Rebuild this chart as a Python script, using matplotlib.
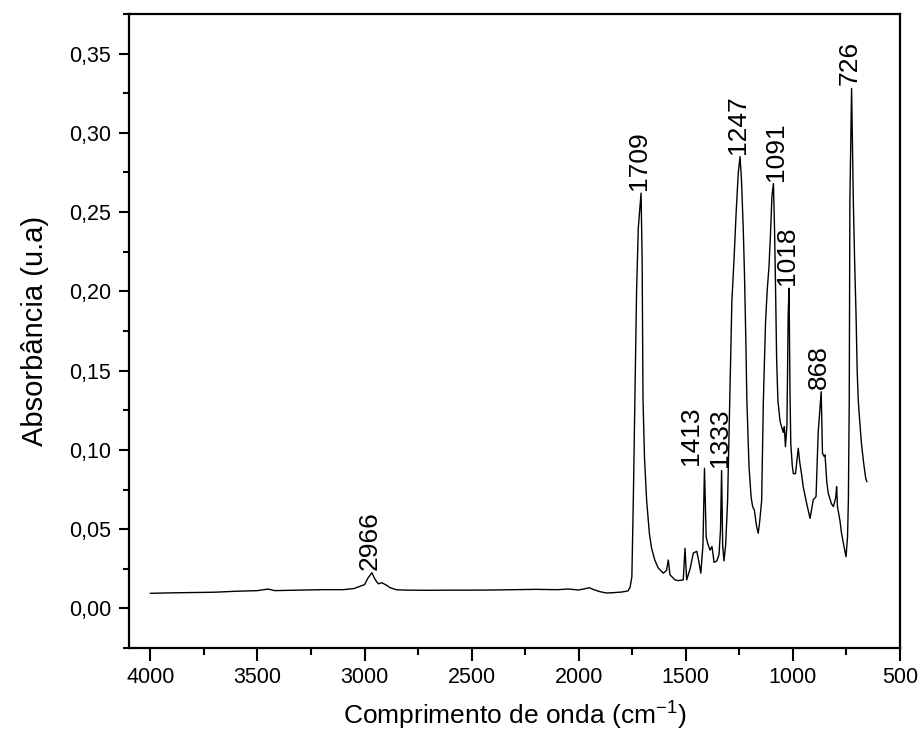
import matplotlib
matplotlib.use("Agg")
import matplotlib.pyplot as plt
from matplotlib.ticker import MultipleLocator, FuncFormatter

# ---- data ----
wavenumber = [4000, 3900, 3800, 3700, 3600, 3500, 3450, 3420, 3300, 3200, 3100, 3050,
              3020, 3000, 2985, 2966, 2950, 2935, 2920, 2900, 2880, 2850, 2800, 2700,
              2600, 2500, 2400, 2300, 2200, 2100, 2050, 2000, 1950, 1930, 1900, 1870,
              1840, 1800, 1770, 1760, 1752, 1745, 1738, 1730, 1722, 1709, 1704, 1700,
              1693, 1683, 1670, 1660, 1645, 1629, 1605, 1590, 1582, 1574, 1551, 1535,
              1512, 1504, 1496, 1480, 1465, 1449, 1440, 1430, 1420, 1413, 1405, 1398,
              1387, 1378, 1368, 1355, 1345, 1338, 1333, 1328, 1322, 1314, 1305, 1295,
              1285, 1275, 1265, 1255, 1247, 1240, 1232, 1226, 1220, 1215, 1205, 1195,
              1188, 1180, 1170, 1162, 1155, 1146, 1138, 1128, 1120, 1112, 1105, 1098,
              1091, 1086, 1082, 1076, 1070, 1060, 1053, 1045, 1040, 1035, 1028, 1022,
              1018, 1014, 1010, 1003, 998, 988, 980, 975, 968, 960, 952, 936, 920, 905,
              892, 882, 868, 862, 855, 850, 842, 835, 820, 811, 800, 796, 792, 780, 773,
              760, 752, 745, 741, 737, 734, 726, 718, 712, 705, 700, 695, 688, 680, 670,
              660, 655]
absorbance = [0.0095, 0.0098, 0.0100, 0.0102, 0.0108, 0.0112, 0.0122, 0.0112, 0.0115,
              0.0118, 0.0118, 0.0125, 0.0140, 0.0150, 0.0190, 0.0225, 0.0180, 0.0155,
              0.0162, 0.0148, 0.0130, 0.0117, 0.0115, 0.0114, 0.0115, 0.0115, 0.0116,
              0.0118, 0.0120, 0.0118, 0.0122, 0.0116, 0.0130, 0.0118, 0.0105, 0.0097,
              0.0099, 0.0103, 0.0110, 0.0135, 0.0200, 0.0700, 0.1300, 0.2000, 0.2400,
              0.2620, 0.2200, 0.1320, 0.0950, 0.0680, 0.0470, 0.0380, 0.0305, 0.0255,
              0.0222, 0.0240, 0.0305, 0.0212, 0.0180, 0.0175, 0.0180, 0.0379, 0.0180,
              0.0250, 0.0349, 0.0360, 0.0300, 0.0222, 0.0400, 0.0884, 0.0450, 0.0410,
              0.0368, 0.0390, 0.0290, 0.0300, 0.0340, 0.0500, 0.0870, 0.0400, 0.0300,
              0.0400, 0.0680, 0.1310, 0.1940, 0.2200, 0.2500, 0.2750, 0.2850, 0.2700,
              0.2400, 0.2100, 0.1700, 0.1310, 0.0894, 0.0700, 0.0642, 0.0620, 0.0520,
              0.0474, 0.0550, 0.0680, 0.1310, 0.1800, 0.2010, 0.2150, 0.2350, 0.2600,
              0.2680, 0.2400, 0.2100, 0.1570, 0.1310, 0.1180, 0.1146, 0.1110, 0.1146,
              0.1020, 0.1150, 0.1860, 0.2020, 0.1400, 0.1040, 0.0900, 0.0850, 0.0850,
              0.0950, 0.1010, 0.0920, 0.0850, 0.0768, 0.0663, 0.0568, 0.0685, 0.0705,
              0.1110, 0.1367, 0.0979, 0.0960, 0.0968, 0.0800, 0.0726, 0.0660, 0.0642,
              0.0700, 0.0768, 0.0642, 0.0550, 0.0474, 0.0380, 0.0326, 0.0450, 0.0684,
              0.1310, 0.2577, 0.3280, 0.2577, 0.2200, 0.1840, 0.1500, 0.1315, 0.1180,
              0.1040, 0.0920, 0.0820, 0.0800]

peak_labels = ["2966", "1709", "1413", "1333", "1247", "1091", "1018", "868", "726"]
peak_wn = [2966, 1709, 1413, 1333, 1247, 1091, 1018, 868, 726]
peak_abs = [0.0225, 0.2620, 0.0884, 0.0870, 0.2850, 0.2680, 0.2020, 0.1367, 0.3280]

x_ticks = [4000, 3500, 3000, 2500, 2000, 1500, 1000, 500]
y_ticks = [0.00, 0.05, 0.10, 0.15, 0.20, 0.25, 0.30, 0.35]

# ---- style ----
family = ["Liberation Sans", "DejaVu Sans"]
plt.rcParams["font.family"] = family
plt.rcParams["mathtext.fontset"] = "custom"
plt.rcParams["mathtext.rm"] = "Liberation Sans"
plt.rcParams["mathtext.it"] = "Liberation Sans"

fig = plt.figure(figsize=(9.19, 7.45), dpi=100)
ax = fig.add_axes([129 / 919, 1 - 648 / 745, 771 / 919, 634 / 745])

ax.plot(wavenumber, absorbance, color="black", lw=1.0)

ax.set_xlim(4100, 500)
ax.set_ylim(-0.025, 0.375)
ax.set_xticks(x_ticks)
ax.set_yticks(y_ticks)
ax.xaxis.set_minor_locator(MultipleLocator(250))
ax.yaxis.set_minor_locator(MultipleLocator(0.025))
ax.yaxis.set_major_formatter(FuncFormatter(lambda v, p: f"{v:.2f}".replace(".", ",")))
ax.xaxis.set_major_formatter(FuncFormatter(lambda v, p: f"{v:.0f}"))

ax.tick_params(axis="both", which="major", direction="out", width=1.5,
               labelsize=15.5, top=False, right=False)
ax.tick_params(axis="x", which="major", length=9, pad=5)
ax.tick_params(axis="y", which="major", length=7, pad=6)
ax.tick_params(axis="x", which="minor", direction="out", length=5, width=1.5, top=False)
ax.tick_params(axis="y", which="minor", direction="out", length=4, width=1.5, right=False)
for s in ax.spines.values():
    s.set_linewidth(1.6)

ax.set_xlabel("Comprimento de onda (cm$^{\\mathrm{-1}}$)", fontsize=19, labelpad=8)
ax.set_ylabel("Absorbância (u.a)", fontsize=21, labelpad=14)

label_dx = {"1413": -13, "1091": 3}
for lab, w, a in zip(peak_labels, peak_wn, peak_abs):
    dx = label_dx.get(lab, -2)
    ax.annotate(lab, xy=(w, a), xytext=(dx, 3), textcoords="offset pixels",
                rotation=90, ha="center", va="bottom", fontsize=19)

fig.savefig("out.png", dpi=100)
